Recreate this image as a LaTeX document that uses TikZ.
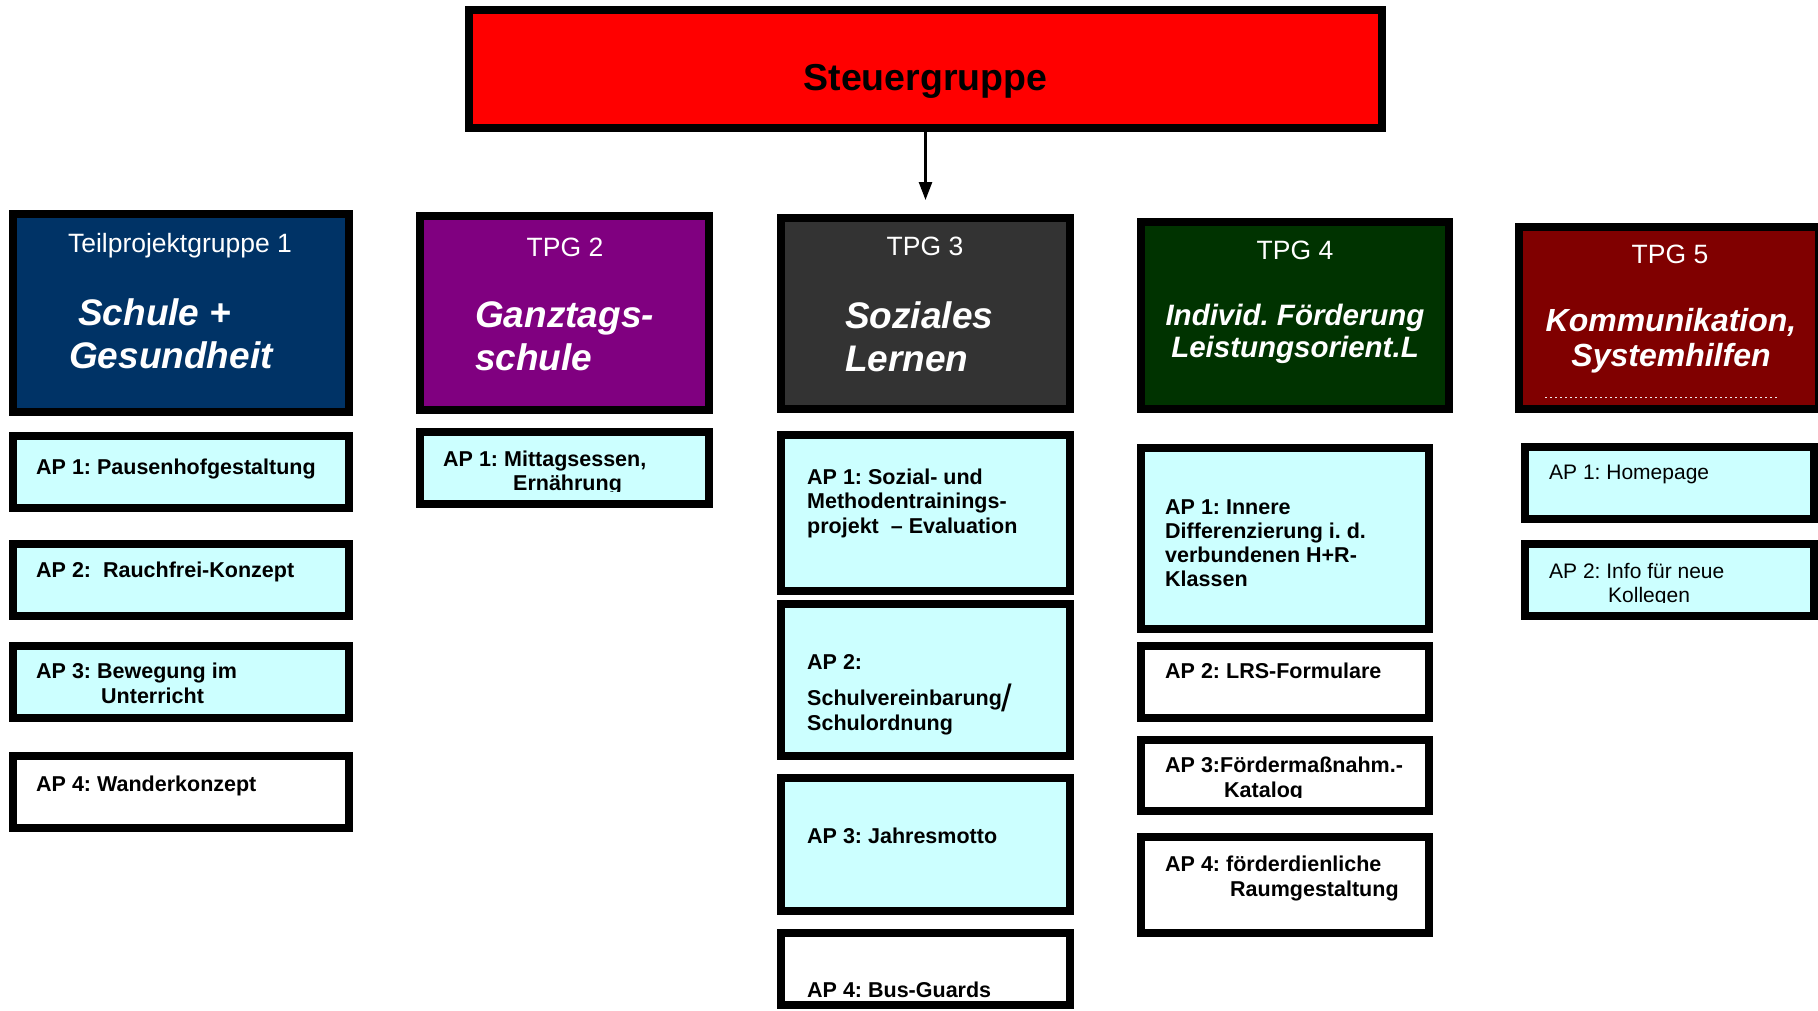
\documentclass[tikz,border=0pt]{standalone}
\usepackage{fontspec}
\setmainfont{Liberation Sans}
\usetikzlibrary{arrows.meta}
\definecolor{sgred}{HTML}{FF0000}
\definecolor{tpgnavy}{HTML}{003366}
\definecolor{tpgpurple}{HTML}{800080}
\definecolor{tpggray}{HTML}{333333}
\definecolor{tpggreen}{HTML}{003300}
\definecolor{tpgdred}{HTML}{800000}
\definecolor{apcyan}{HTML}{CCFFFF}
\frenchspacing
\tikzset{
  box/.style={draw=black, line width=8pt, inner sep=0pt, rectangle},
  apbox/.style={box, fill=apcyan},
  apwhite/.style={box, fill=white},
  aptxt/.style={anchor=north west, inner sep=0pt, align=left,
    font=\fontsize{21.5}{#1}\selectfont\bfseries\frenchspacing},
  aptxt/.default=25,
  apreg/.style={anchor=north west, inner sep=0pt, align=left,
    font=\fontsize{21}{#1}\selectfont\frenchspacing},
  apreg/.default=24,
  hdr/.style={anchor=base, inner sep=0pt, text=white, font=\fontsize{26.5}{30}\selectfont},
  ttlbig/.style={inner sep=0pt, text=white, font=\fontsize{37}{43}\selectfont\bfseries\itshape},
  conn/.style={line width=2.5pt, -{Triangle[length=18pt,width=13pt]}}
}
\begin{document}
\begin{tikzpicture}[x=1pt, y=-1pt]
\useasboundingbox (0,0) rectangle (1818,1010);
\clip (0,0) rectangle (1818,1010);

% Steuergruppe
\node[box, fill=sgred, minimum width=913pt, minimum height=118pt] (s) at (925.5,69) {};
\node[anchor=base, inner sep=0pt, font=\fontsize{37.5}{40}\selectfont\bfseries] (slbl) at (925.5,90) {Steuergruppe};
\coordinate (arrtip) at (925.5,200);
\draw[conn] (s.south) -- (arrtip);

% TPG boxes
\node[box, fill=tpgnavy, minimum width=336pt, minimum height=198pt] (t1) at (181,313) {};
\node[box, fill=tpgpurple, minimum width=289pt, minimum height=194pt] (t2) at (564.5,313) {};
\node[box, fill=tpggray, minimum width=289pt, minimum height=191pt] (t3) at (925.5,313.5) {};
\node[box, fill=tpggreen, minimum width=308pt, minimum height=187pt] (t4) at (1295,315.5) {};
\node[box, fill=tpgdred, minimum width=300pt, minimum height=182pt] (t5) at (1669,318) {};

\node[hdr] (t1h) at (180,252) {Teilprojektgruppe 1};
\node[hdr] (t2h) at (565,256) {TPG 2};
\node[hdr] (t3h) at (925,255) {TPG 3};
\node[hdr] (t4h) at (1295,259) {TPG 4};
\node[hdr] (t5h) at (1670,263) {TPG 5};

\node[ttlbig, anchor=north west, align=left] (t1t) at (69,298.5) {\hspace*{9pt}Schule +\\Gesundheit};
\node[ttlbig, anchor=north west, align=left] (t2t) at (475,301.5) {Ganztags-\\schule};
\node[ttlbig, anchor=north west, align=left] (t3t) at (845,301.5) {Soziales\\Lernen};
\node[inner sep=0pt, text=white, anchor=north, align=center,
  font=\fontsize{29.5}{32.5}\selectfont\bfseries\itshape] (t4t) at (1295,303.8) {Individ. Förderung\\Leistungsorient.L};
\node[inner sep=0pt, text=white, anchor=north, align=center,
  font=\fontsize{32}{35}\selectfont\bfseries\itshape] (t5t) at (1671,308) {Kommunikation,\\Systemhilfen};
\coordinate (dl1) at (1545,397);
\coordinate (dl2) at (1778,397);
\draw[white!85!gray, line width=1pt, dash pattern=on 2pt off 3pt] (dl1) -- (dl2);

% Column 1
\node[apbox, minimum width=336pt, minimum height=72pt] (a11) at (181,472) {};
\node[apbox, minimum width=336pt, minimum height=72pt] (a12) at (181,580) {};
\node[apbox, minimum width=336pt, minimum height=72pt] (a13) at (181,682) {};
\node[apwhite, minimum width=336pt, minimum height=72pt] (a14) at (181,792) {};
\node[aptxt] (a11t) at (36,459) {AP 1: Pausenhofgestaltung};
\node[aptxt] (a12t) at (36,562) {AP 2:\ \ Rauchfrei-Konzept};
\node[aptxt=24.5] (a13t) at (36,663) {AP 3: Bewegung im\\\hspace*{65pt}Unterricht};
\node[aptxt] (a14t) at (36,776) {AP 4: Wanderkonzept};

% Column 2
\node[apbox, minimum width=289pt, minimum height=72pt] (a21) at (564.5,468) {};
\begin{scope}
\clip (425,436) rectangle (705,491);
\node[aptxt=23.5] (a21t) at (443,451) {AP 1: Mittagsessen,\\\hspace*{70pt}Ernährung};
\end{scope}

% Column 3
\node[apbox, minimum width=289pt, minimum height=156pt] (a31) at (925.5,513) {};
\node[apbox, minimum width=289pt, minimum height=152pt] (a32) at (925.5,680) {};
\node[apbox, minimum width=289pt, minimum height=133pt] (a33) at (925.5,844.5) {};
\node[apwhite, minimum width=289pt, minimum height=72pt] (a34) at (925.5,969) {};
\node[aptxt=24.5] (a31t) at (807,468.5) {AP 1: Sozial- und\\Methodentrainings-\\projekt\ \ – Evaluation};
\node[aptxt=25] (a32t) at (807,654.5) {AP 2:\\[11pt]Schulvereinbarung\raisebox{-6pt}{\fontsize{38}{38}\selectfont\mdseries /}\\Schulordnung};
\node[aptxt] (a33t) at (807,828) {AP 3: Jahresmotto};
\begin{scope}
\clip (785,937) rectangle (1066,999.5);
\node[aptxt] (a34t) at (807,982) {AP 4: Bus-Guards};
\end{scope}

% Column 4
\node[apbox, minimum width=288pt, minimum height=181pt] (a41) at (1285,538.5) {};
\node[apwhite, minimum width=288pt, minimum height=72pt] (a42) at (1285,682) {};
\node[apwhite, minimum width=288pt, minimum height=71pt] (a43) at (1285,775.5) {};
\node[apwhite, minimum width=288pt, minimum height=96pt] (a44) at (1285,885) {};
\node[aptxt=24.3] (a41t) at (1165,499) {AP 1: Innere\\Differenzierung i. d.\\verbundenen H+R-\\Klassen};
\node[aptxt] (a42t) at (1165,663) {AP 2: LRS-Formulare};
\begin{scope}
\clip (1145,744) rectangle (1425,797.5);
\node[aptxt=24.5] (a43t) at (1165,757) {AP 3:Fördermaßnahm.-\\\hspace*{59pt}Katalog};
\end{scope}
\node[aptxt] (a44t) at (1165,856) {AP 4: förderdienliche\\\hspace*{65pt}Raumgestaltung};

% Column 5
\node[apbox, minimum width=289pt, minimum height=72pt] (a51) at (1669.5,483) {};
\node[apbox, minimum width=289pt, minimum height=72pt] (a52) at (1669.5,580) {};
\node[apreg] (a51t) at (1549,464.5) {AP 1: Homepage};
\begin{scope}
\clip (1529,548) rectangle (1810,602.5);
\node[apreg] (a52t) at (1549,563) {AP 2: Info für neue\\\hspace*{59pt}Kollegen};
\end{scope}
\end{tikzpicture}
\end{document}
